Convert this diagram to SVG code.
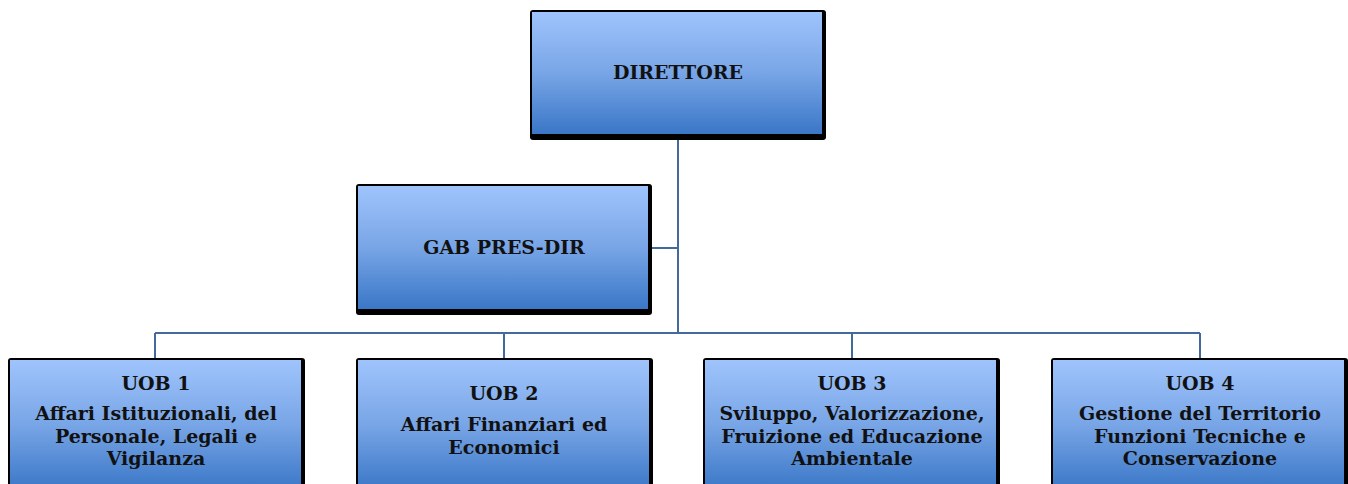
<svg xmlns="http://www.w3.org/2000/svg" width="1348" height="484" viewBox="0 0 1348 484">
<defs>
<linearGradient id="g" x1="0" y1="0" x2="0" y2="1">
<stop offset="0" stop-color="#9fc4fc"/>
<stop offset="0.5" stop-color="#78a5e6"/>
<stop offset="1" stop-color="#3a77c7"/>
</linearGradient>
</defs>
<style>
.sh{fill:#000}
.bx{fill:url(#g)}
.t{font-family:"DejaVu Serif","Liberation Serif",serif;font-weight:bold;font-size:19px;fill:#111;text-anchor:middle}
.c{stroke:#44699b;stroke-width:2;fill:none}
</style>
<g id="connectors">
<path class="c" d="M678 134V333M648 248H678M155 333H1200M155 333V359M504 333V359M852 333V359M1200 333V359"/>
</g>
<g id="n-direttore">
<rect class="sh" x="530" y="10" width="296" height="130" rx="3"/>
<rect class="bx" x="532" y="12" width="290" height="122"/>
<text class="t" x="678" y="79">DIRETTORE</text>
</g>
<g id="n-gab">
<rect class="sh" x="356" y="184" width="296" height="131" rx="3"/>
<rect class="bx" x="358" y="186" width="290" height="123"/>
<text class="t" x="504" y="254">GAB PRES-DIR</text>
</g>
<g id="n-uob1">
<rect class="sh" x="8" y="358" width="297" height="140" rx="3"/>
<rect class="bx" x="10" y="360" width="291" height="130"/>
<text class="t" x="156" y="390">UOB 1</text>
<text class="t" x="156" y="420">Affari Istituzionali, del</text>
<text class="t" x="156" y="443">Personale, Legali e</text>
<text class="t" x="156" y="465">Vigilanza</text>
</g>
<g id="n-uob2">
<rect class="sh" x="356" y="358" width="297" height="140" rx="3"/>
<rect class="bx" x="358" y="360" width="291" height="130"/>
<text class="t" x="504" y="400">UOB 2</text>
<text class="t" x="504" y="431">Affari Finanziari ed</text>
<text class="t" x="504" y="454">Economici</text>
</g>
<g id="n-uob3">
<rect class="sh" x="703" y="358" width="297" height="140" rx="3"/>
<rect class="bx" x="705" y="360" width="291" height="130"/>
<text class="t" x="852" y="390">UOB 3</text>
<text class="t" x="852" y="420">Sviluppo, Valorizzazione,</text>
<text class="t" x="852" y="443">Fruizione ed Educazione</text>
<text class="t" x="852" y="465">Ambientale</text>
</g>
<g id="n-uob4">
<rect class="sh" x="1051" y="358" width="297" height="140" rx="3"/>
<rect class="bx" x="1053" y="360" width="291" height="130"/>
<text class="t" x="1200" y="390">UOB 4</text>
<text class="t" x="1200" y="420">Gestione del Territorio</text>
<text class="t" x="1200" y="443">Funzioni Tecniche e</text>
<text class="t" x="1200" y="465">Conservazione</text>
</g>
</svg>
